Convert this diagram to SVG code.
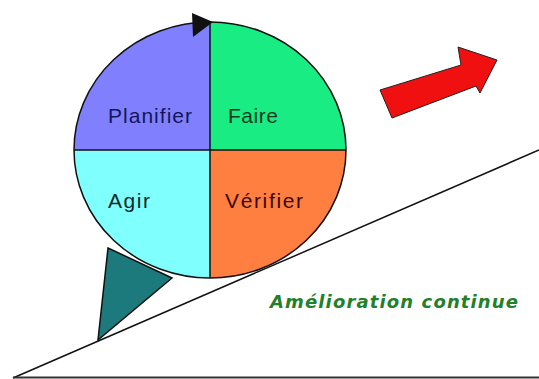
<svg xmlns="http://www.w3.org/2000/svg" width="539" height="379" viewBox="0 0 539 379">
<style>
.q{stroke:none}
.lbl{font-family:"Liberation Sans",Arial,sans-serif;font-size:21px}
.edge{fill:none;stroke:#111;stroke-width:1.5}
</style>
<rect width="539" height="379" fill="#fff"/>
<g id="ground">
<line x1="13" y1="378" x2="539" y2="150" class="edge"/>
<line x1="13" y1="377.5" x2="539" y2="377.5" stroke="#333" stroke-width="2"/>
</g>
<g id="wedge">
<polygon points="108,248 172,278 98,340" fill="#1d7a7c" stroke="#111" stroke-width="1.5"/>
</g>
<g id="wheel">
<path class="q" d="M210,150 L74,150 A136,128 0 0 1 210,22 Z" fill="#8080ff"/>
<path class="q" d="M210,150 L210,22 A136,128 0 0 1 346,150 Z" fill="#1aec84"/>
<path class="q" d="M210,150 L346,150 A136,128 0 0 1 210,278 Z" fill="#ff7f40"/>
<path class="q" d="M210,150 L210,278 A136,128 0 0 1 74,150 Z" fill="#80ffff"/>
<ellipse cx="210" cy="150" rx="136" ry="128" class="edge"/>
<line x1="210" y1="22" x2="210" y2="278" class="edge"/>
<line x1="74" y1="150" x2="346" y2="150" class="edge"/>
<polygon points="192,13 213,22 193,37" fill="#111"/>
</g>
<g id="planifier"><text class="lbl" x="108" y="123" textLength="84" fill="#15155a">Planifier</text></g>
<g id="faire"><text class="lbl" x="228" y="123" textLength="50" fill="#0b3a1c">Faire</text></g>
<g id="agir"><text class="lbl" x="108" y="208" textLength="42" fill="#0e2a2a">Agir</text></g>
<g id="verifier"><text class="lbl" x="225" y="208" textLength="78" fill="#3a0a00">Vérifier</text></g>
<g id="arrow">
<polygon points="380,90 461,65 458,47 497,60 480,93 476,86 392,118" fill="#f01010" stroke="#222" stroke-width="1"/>
</g>
<g id="caption">
<text x="270" y="308" textLength="248" font-family="'DejaVu Sans',Verdana,sans-serif" font-size="18" font-weight="bold" font-style="italic" fill="#23802a">Amélioration continue</text>
</g>
</svg>
